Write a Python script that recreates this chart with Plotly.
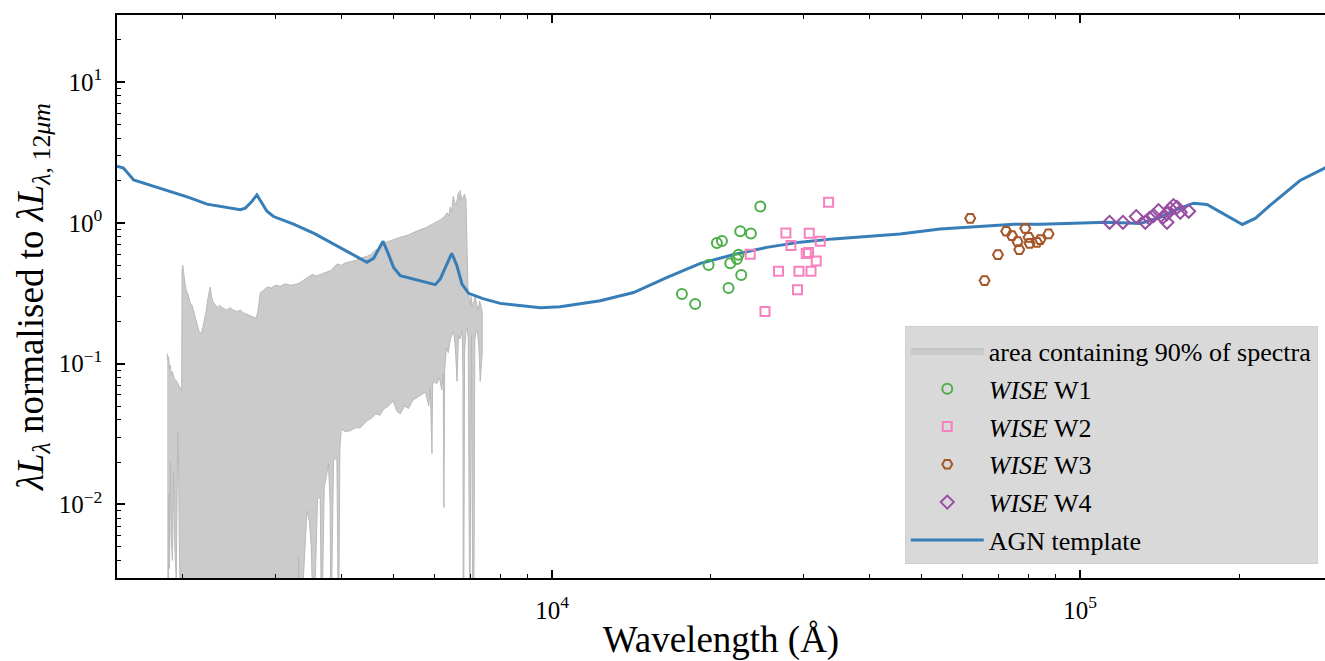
import math
import plotly.graph_objects as go

# AGN template SED (wavelength in Angstrom, lambda*L_lambda normalised at 12 micron)
tmpl_wave = [1500, 1543, 1613, 1700, 1866, 2050, 2221, 2400, 2568, 2624, 2700, 2761, 2820, 2884,
             2969, 3239, 3550, 3856, 4200, 4461, 4592, 4700, 4786, 4900, 5010, 5159, 5600,
             6009, 6142, 6300, 6457, 6600, 6752, 6950, 7400, 7978, 9000, 9500, 10360,
             12340, 14270, 16520, 19100, 22100, 25500, 29500, 34100, 39500, 45600, 54300,
             65000, 75000, 84100, 100000, 112500, 130000, 142000, 150300, 164000, 173900,
             187000, 203000, 215000, 229000, 261000, 292000]
tmpl_val = [2.53, 2.45, 2.02, 1.90, 1.70, 1.52, 1.36, 1.29, 1.24, 1.27, 1.42, 1.58, 1.38, 1.21,
            1.11, 0.98, 0.84, 0.71, 0.60, 0.525, 0.56, 0.66, 0.74, 0.60, 0.483, 0.422, 0.39,
            0.364, 0.40, 0.50, 0.608, 0.50, 0.368, 0.316, 0.29, 0.268, 0.255, 0.25, 0.254,
            0.28, 0.32, 0.41, 0.516, 0.596, 0.67, 0.73, 0.77, 0.80, 0.835, 0.906,
            0.95, 0.98, 0.98, 1.0, 1.01, 0.99, 1.096, 1.22, 1.38, 1.35,
            1.16, 0.975, 1.08, 1.33, 2.0, 2.47]

# Upper and lower envelopes of the region containing 90% of the spectra
band_up_wave = [1867, 1872, 1878, 1885, 1892, 1900, 1909, 1925, 1942, 1959, 1976, 1989,
                1992, 1998, 2005, 2011, 2020, 2029, 2045, 2064, 2080, 2092, 2110, 2129,
                2145, 2157, 2170, 2180, 2195, 2210, 2230, 2252, 2265, 2282, 2300, 2322,
                2345, 2373, 2400, 2420, 2458, 2490, 2534, 2570, 2601, 2640, 2682, 2720,
                2754, 2775, 2790, 2802, 2838, 2888, 2940, 2991, 3060, 3124, 3200, 3306,
                3360, 3409, 3460, 3514, 3580, 3639, 3700, 3760, 3818, 3870, 3919, 3990,
                4058, 4148, 4240, 4332, 4400, 4467, 4550, 4626, 4700, 4790, 4860, 4939,
                5050, 5159, 5250, 5342, 5450, 5556, 5650, 5753, 5850, 5957, 6050, 6142,
                6240, 6332, 6380, 6416, 6460, 6500, 6540, 6586, 6620, 6650, 6680, 6701,
                6745, 6789, 6830, 6870, 6895, 6909, 6930, 6970, 7000, 7030, 7062, 7100,
                7153, 7200, 7248, 7290, 7311, 7350, 7375]
band_up_val = [0.118, 0.105, 0.112, 0.092, 0.098, 0.084, 0.088, 0.078, 0.076, 0.071, 0.068, 0.064,
               0.46, 0.50, 0.45, 0.40, 0.36, 0.33, 0.31, 0.27, 0.26, 0.24, 0.21, 0.185,
               0.17, 0.163, 0.168, 0.18, 0.20, 0.23, 0.29, 0.35, 0.30, 0.27, 0.265, 0.25,
               0.26, 0.25, 0.245, 0.24, 0.25, 0.24, 0.235, 0.24, 0.23, 0.225, 0.22, 0.215,
               0.21, 0.24, 0.30, 0.32, 0.33, 0.35, 0.345, 0.36, 0.355, 0.37, 0.36, 0.37,
               0.385, 0.40, 0.41, 0.43, 0.42, 0.43, 0.44, 0.45, 0.46, 0.49, 0.51, 0.50,
               0.52, 0.53, 0.54, 0.56, 0.57, 0.58, 0.60, 0.64, 0.66, 0.71, 0.73, 0.75,
               0.77, 0.79, 0.80, 0.82, 0.85, 0.88, 0.90, 0.92, 0.95, 0.98, 1.01, 1.05,
               1.10, 1.18, 1.12, 1.30, 1.20, 1.55, 1.40, 1.35, 1.50, 1.65, 1.45, 1.70,
               1.45, 1.52, 1.60, 1.45, 0.90, 0.60, 0.35, 0.29, 0.26, 0.30, 0.25, 0.27,
               0.30, 0.26, 0.24, 0.28, 0.27, 0.25, 0.23]

band_lo_wave = [1867, 1876, 1880, 1886, 1893, 1900, 1910, 1920, 1930, 1942, 1955, 1962, 1970,
                1980, 1989, 3306, 3311, 3330, 3434, 3470, 3500, 3534, 3596, 3639, 3660,
                3703, 3773, 3800, 3813, 3856, 3913, 3941, 3965, 3988, 4050, 4148, 4240,
                4332, 4400, 4461, 4550, 4640, 4720, 4797, 4900, 5004, 5080, 5159, 5260,
                5350, 5450, 5548, 5650, 5760, 5840, 5880, 5923, 5940, 5966, 6050, 6120,
                6180, 6222, 6240, 6260, 6310, 6360, 6420, 6508, 6560, 6608, 6650, 6700,
                6760, 6780, 6789, 6800, 6830, 6870, 6909, 6940, 6985, 7010, 7040, 7080,
                7110, 7140, 7190, 7226, 7270, 7311, 7350, 7375]
band_lo_val = [0.001, 0.001, 0.012, 0.0035, 0.02, 0.006, 0.004, 0.017, 0.005, 0.003, 0.033, 0.02, 0.004,
               0.002, 0.001, 0.001, 0.0042, 0.001, 0.009, 0.0076, 0.005, 0.001, 0.011, 0.0112, 0.001,
               0.0132, 0.0194, 0.010, 0.001, 0.0204, 0.0215, 0.001, 0.025, 0.0343, 0.033, 0.0333, 0.035,
               0.035, 0.037, 0.0393, 0.041, 0.044, 0.043, 0.0475, 0.050, 0.0545, 0.046, 0.044, 0.050,
               0.048, 0.055, 0.0575, 0.060, 0.063, 0.050, 0.0677, 0.023, 0.070, 0.075, 0.072, 0.080,
               0.065, 0.084, 0.0095, 0.090, 0.13, 0.12, 0.15, 0.171, 0.13, 0.075, 0.16, 0.15,
               0.171, 0.08, 0.001, 0.001, 0.12, 0.17, 0.18, 0.15, 0.001, 0.001, 0.16, 0.001,
               0.001, 0.15, 0.17, 0.171, 0.13, 0.075, 0.10, 0.12]

# WISE photometry converted to rest-frame wavelength
w1_wave = [24800, 22720, 23800, 20520, 20980, 22550, 22390, 21750, 19790, 22820, 21590, 17620, 18670]
w1_val = [1.306, 0.872, 0.842, 0.721, 0.745, 0.595, 0.555, 0.516, 0.503, 0.427, 0.345, 0.313, 0.265]

w2_wave = [33400, 27730, 30700, 28340, 32210, 23730, 30300, 30600, 31650, 26850, 29350, 30930, 29170, 25310]
w2_val = [1.401, 0.849, 0.844, 0.690, 0.740, 0.599, 0.605, 0.615, 0.536, 0.453, 0.453, 0.453, 0.335, 0.235]

w3_wave = [61940, 72460, 74300, 78750, 76150, 76710, 79900, 80250, 82870, 84070, 87160, 69900, 65950]
w3_val = [1.078, 0.872, 0.812, 0.915, 0.736, 0.646, 0.790, 0.716, 0.728, 0.761, 0.835, 0.595, 0.389]

w4_wave = [113740, 120570, 127760, 132900, 135400, 137800, 140800, 143500, 146100, 148200,
           150300, 152600, 146100, 160600, 154800]
w4_val = [1.010, 1.010, 1.109, 1.010, 1.078, 1.127, 1.223, 1.096, 1.159, 1.258,
          1.327, 1.291, 1.010, 1.209, 1.190]

x_lo, x_hi = 1500, 2.91e5
y_lo, y_hi = 0.003, 30

SERIF = "Liberation Serif"

fig = go.Figure()

# shaded region (closed polygon: upper edge forward, lower edge backward)
fig.add_trace(go.Scatter(
    x=band_up_wave + band_lo_wave[::-1],
    y=band_up_val + band_lo_val[::-1],
    mode="lines", fill="toself",
    fillcolor="#cbcbcb",
    line=dict(color="#b9b9b9", width=1),
    name="area containing 90% of spectra",
    legendgroup="g0", legendrank=1,
))

fig.add_trace(go.Scatter(
    x=tmpl_wave, y=tmpl_val, mode="lines",
    line=dict(color="#377eb8", width=3),
    name="AGN template", legendgroup="g5", legendrank=6,
))

marker_sets = [
    (w1_wave, w1_val, "<i>WISE</i> W1", "#4daf4a", "circle-open", 10),
    (w2_wave, w2_val, "<i>WISE</i> W2", "#f781bf", "square-open", 9),
    (w3_wave, w3_val, "<i>WISE</i> W3", "#a65628", "hexagon2-open", 10),
    (w4_wave, w4_val, "<i>WISE</i> W4", "#984ea3", "diamond-open", 10),
]
for i, (xw, yv, label, col, sym, size) in enumerate(marker_sets):
    fig.add_trace(go.Scatter(
        x=xw, y=yv, mode="markers", name=label,
        marker=dict(symbol=sym, size=size, color=col, line=dict(color=col, width=2)),
        legendgroup=f"g{i + 1}", legendrank=i + 2,
    ))


def minor_positions(lo_exp, hi_exp):
    vals = []
    for e in range(lo_exp, hi_exp + 1):
        for m in range(2, 10):
            vals.append(m * 10 ** e)
    return vals


tick_common = dict(
    type="log", ticks="inside", ticklen=8, tickwidth=1.5, tickcolor="black",
    showgrid=False, zeroline=False, showline=True, linecolor="black", linewidth=1.5,
    tickfont=dict(family=SERIF, size=25, color="black"), automargin=False,
)

fig.update_xaxes(
    **tick_common,
    range=[math.log10(x_lo), math.log10(x_hi)],
    mirror="ticks",
    tickvals=[1e4, 1e5], ticktext=["10<sup>4</sup>", "10<sup>5</sup>"],
    minor=dict(tickvals=minor_positions(3, 5), ticks="inside", ticklen=4,
               tickwidth=1.2, tickcolor="black", showgrid=False),
    ticklabelstandoff=9,
    title=dict(text="Wavelength (Å)", font=dict(family=SERIF, size=37, color="black"), standoff=12),
)
fig.update_yaxes(
    **tick_common,
    range=[math.log10(y_lo), math.log10(y_hi)],
    mirror=False,
    tickvals=[1e-2, 1e-1, 1e0, 1e1],
    ticktext=["10<sup>−2</sup>", "10<sup>−1</sup>", "10<sup>0</sup>", "10<sup>1</sup>"],
    minor=dict(tickvals=minor_positions(-3, 1), ticks="inside", ticklen=4,
               tickwidth=1.2, tickcolor="black", showgrid=False),
    ticklabelstandoff=8,
    title=dict(text="<i>λL</i><sub><i>λ</i></sub> normalised to <i>λL</i><sub><i>λ</i>, 12<i>μm</i></sub>",
               font=dict(family=SERIF, size=37, color="black"), standoff=4),
)

fig.update_layout(
    width=1325, height=661,
    margin=dict(l=117, r=0, t=15, b=83),
    plot_bgcolor="white", paper_bgcolor="white",
    font=dict(family=SERIF, color="black"),
    legend=dict(
        x=0.994, y=0.024, xanchor="right", yanchor="bottom",
        bgcolor="#d9d9d9", bordercolor="#cfcfcf", borderwidth=1,
        font=dict(family=SERIF, size=26, color="black"),
        itemwidth=73, tracegroupgap=1,
    ),
)

fig.write_html("out.html")
